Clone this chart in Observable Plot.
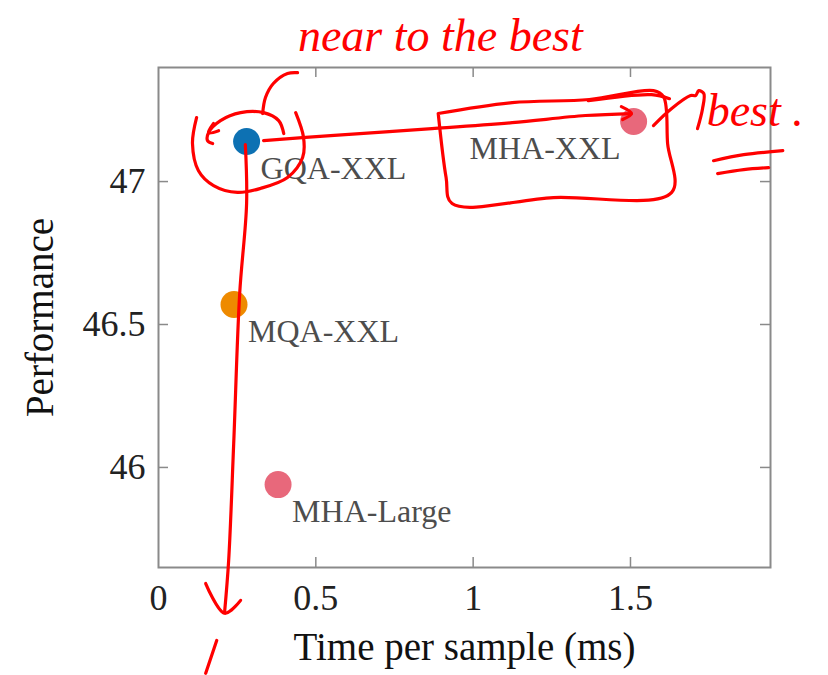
<!DOCTYPE html>
<html><head><meta charset="utf-8">
<script src="https://cdn.jsdelivr.net/npm/d3@7"></script>
<script src="https://cdn.jsdelivr.net/npm/@observablehq/plot@0.6"></script>
<style>body{margin:0;background:#fff}</style>
</head><body><div id="chart"></div>
<script>
// ---- chart data ----
const models = ["GQA-XXL", "MHA-XXL", "MQA-XXL", "MHA-Large"];
const attention = ["GQA", "MHA", "MQA", "MHA"];
const timeMs = [0.28, 1.51, 0.24, 0.38];
const performance = [47.14, 47.21, 46.57, 45.94];
const xTicks = [0, 0.5, 1, 1.5];
const yTicks = [46, 46.5, 47];
const attentionTypes = ["GQA", "MQA", "MHA"];
const attentionColors = ["#0d71b3", "#ee8a00", "#e8687b"];

// ---- hand-drawn red annotations (in data units: ms, performance) ----
const circleStroke = [[0.121,47.224],[0.108,47.133],[0.127,47.038],[0.175,46.986],[0.251,46.962],[0.324,46.976],[0.410,47.014],[0.458,47.084],[0.461,47.154],[0.436,47.241]];
const innerArcStroke = [[0.398,47.168],[0.382,47.213],[0.334,47.241],[0.261,47.241],[0.197,47.213],[0.159,47.171],[0.156,47.143],[0.172,47.133]];
const innerArrowHead = [[0.175,47.203],[0.159,47.171],[0.191,47.178]];
const upCurveStroke = [[0.331,47.238],[0.340,47.294],[0.365,47.343],[0.410,47.378],[0.442,47.381]];
const rightArrowStroke = [[0.334,47.143],[0.547,47.161],[0.869,47.185],[1.124,47.206],[1.357,47.231],[1.503,47.238]];
const rightArrowHead = [[1.471,47.262],[1.503,47.238],[1.475,47.217]];
const boxStroke = [[0.889,47.238],[1.124,47.276],[1.369,47.287],[1.573,47.318],[1.605,47.297],[1.618,47.133],[1.631,46.962],[1.255,46.944],[0.933,46.923],[0.914,47.014],[0.889,47.238]];
const boxTopStroke = [[1.366,47.283],[1.567,47.304],[1.624,47.290]];
const bestArrowStroke = [[1.573,47.196],[1.630,47.255],[1.691,47.301],[1.707,47.301],[1.717,47.318],[1.733,47.308],[1.729,47.255],[1.713,47.185]];
const underline1 = [[1.764,47.073],[1.860,47.094],[1.984,47.108]];
const underline2 = [[1.777,47.028],[1.860,47.042],[1.939,47.049]];
const downArrowStroke = [[0.276,47.129],[0.280,46.923],[0.258,46.608],[0.239,46.084],[0.223,45.675],[0.210,45.493]];
const downArrowHead = [[0.150,45.594],[0.210,45.490],[0.261,45.535]];
const tailStroke = [[0.185,45.395],[0.150,45.280]];
const noteTexts = ["near to the best", "best ."];
const noteX = [0.443, 1.742];
const noteY = [47.51, 47.245];

const points = models.map((m, i) => ({model: m, type: attention[i], time: timeMs[i], perf: performance[i]}));
const strokes = [circleStroke, innerArcStroke, innerArrowHead, upCurveStroke, rightArrowStroke, rightArrowHead,
  boxStroke, boxTopStroke, bestArrowStroke, underline1, underline2, downArrowStroke, downArrowHead, tailStroke]
  .flatMap((s, k) => s.map(([x, y]) => ({x, y, k})));
const notes = noteTexts.map((t, i) => ({t, x: noteX[i], y: noteY[i]}));

const serif = "'Liberation Serif', 'DejaVu Serif', serif";
const gray = "#8a8a8a";

const chart = Plot.plot({
  width: 828,
  height: 675,
  marginLeft: 158,
  marginRight: 58,
  marginTop: 67,
  marginBottom: 108,
  style: {fontFamily: serif, fontSize: "36px", background: "#fff", overflow: "visible"},
  x: {domain: [0, 1.945]},
  y: {domain: [45.65, 47.399]},
  color: {domain: attentionTypes, range: attentionColors},
  marks: [
    Plot.frame({stroke: gray, strokeWidth: 2}),
    Plot.tickX(xTicks.slice(1), {x: d => d, stroke: gray, strokeWidth: 1.5, insetTop: 490}),
    Plot.tickX(xTicks.slice(1), {x: d => d, stroke: gray, strokeWidth: 1.5, insetBottom: 490}),
    Plot.tickY(yTicks, {y: d => d, stroke: gray, strokeWidth: 1.5, insetRight: 602}),
    Plot.tickY(yTicks, {y: d => d, stroke: gray, strokeWidth: 1.5, insetLeft: 602}),
    Plot.axisX({ticks: xTicks, tickSize: 0, tickPadding: 17, tickFormat: d => String(d), label: null, fontSize: 36, fill: "#222"}),
    Plot.axisY({ticks: yTicks, tickSize: 0, tickPadding: 13, tickFormat: d => String(d), label: null, fontSize: 36, fill: "#222"}),
    Plot.text(["Time per sample (ms)"], {text: d => d, frameAnchor: "bottom", dy: 92, fontSize: 39, fill: "#111"}),
    Plot.text(["Performance"], {text: d => d, frameAnchor: "left", textAnchor: "middle", dx: -118, rotate: -90, fontSize: 39, fill: "#111"}),
    Plot.dot(points, {x: "time", y: "perf", fill: "type", r: 13.5}),
    Plot.text(points.filter(d => d.model !== "MHA-XXL"), {x: "time", y: "perf", text: "model", textAnchor: "start", dx: 14, dy: 27, fontSize: 32, fill: "#4d4d4d"}),
    Plot.text(points.filter(d => d.model === "MHA-XXL"), {x: "time", y: "perf", text: "model", textAnchor: "end", dx: -13, dy: 27, fontSize: 32, fill: "#4d4d4d"}),
    Plot.line(strokes, {x: "x", y: "y", z: "k", stroke: "#ff0000", strokeWidth: 3.2, curve: "catmull-rom", clip: false}),
    Plot.text(notes, {x: "x", y: "y", text: "t", textAnchor: "start", fontSize: 46, fontStyle: "italic", fill: "#ff0000"})
  ]
});
document.getElementById("chart").appendChild(chart);
</script>
</body></html>
